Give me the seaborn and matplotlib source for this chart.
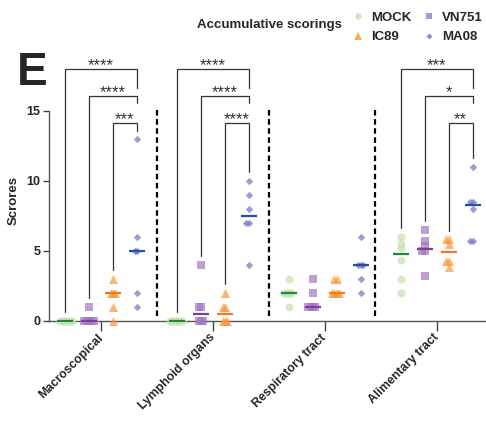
import numpy as np
import pandas as pd
import matplotlib
matplotlib.use("Agg")
import matplotlib.pyplot as plt
from matplotlib.lines import Line2D
import seaborn as sns

# ---------------- data ----------------
categories = ["Macroscopical", "Lymphoid organs", "Respiratory tract", "Alimentary tract"]
groups = ["MOCK", "VN751", "IC89", "MA08"]

mock_scores = [
    [0, 0, 0, 0, 0, 0],
    [0, 0, 0, 0, 0, 0],
    [3, 2, 2, 2, 2, 1],
    [6.0, 5.5, 5.2, 4.3, 3.0, 2.0],
]
vn751_scores = [
    [1, 0, 0, 0, 0, 0],
    [4, 1, 1, 0, 0, 0],
    [3, 2, 1, 1, 1, 1],
    [6.5, 5.7, 5.3, 5.0, 5.0, 3.2],
]
ic89_scores = [
    [3, 2, 2, 2, 1, 0],
    [2, 1, 1, 0, 0, 0],
    [3, 3, 2, 2, 2, 2],
    [5.8, 5.8, 5.5, 4.25, 4.25, 3.85],
]
ma08_scores = [
    [13, 6, 5, 5, 2, 1],
    [10, 9, 8, 7, 7, 4],
    [6, 4, 4, 4, 3, 2],
    [11, 8.5, 8.5, 8.0, 5.7, 5.7],
]
# significance vs MA08 (from MOCK, VN751, IC89)
sig_macro = ["****", "****", "***"]
sig_lymph = ["****", "****", "****"]
sig_alim = ["***", "*", "**"]

# ---------------- style ----------------
offsets = [-0.321, -0.107, 0.107, 0.321]
markers = ["o", "s", "^", "D"]
msizes = [5.8, 5.5, 6.5, 3.8]
point_colors = ["#c2e1b0", "#a277c2", "#f89737", "#7074c6"]
median_colors = ["#1e8a3c", "#7d3f98", "#f07a1e", "#2a4ea5"]

all_scores = [mock_scores, vn751_scores, ic89_scores, ma08_scores]
rows = []
for gi, g in enumerate(groups):
    for ci, c in enumerate(categories):
        for v in all_scores[gi][ci]:
            rows.append({"group": g, "category": c, "score": v,
                         "xpos": ci + offsets[gi]})
df = pd.DataFrame(rows)

sns.set_style("ticks")
plt.rcParams["font.family"] = ["Liberation Sans", "DejaVu Sans"]
plt.rcParams["font.weight"] = "bold"

W, H = 486, 421
fig = plt.figure(figsize=(W / 100, H / 100), dpi=100)
y0_px, ppu = 320.5, 13.97
ytop = 19.5
ax = fig.add_axes([49 / W, (H - y0_px) / H, (W - 49) / W, ytop * ppu / H])

swarms = []
for gi, g in enumerate(groups):
    sub = df[df["group"] == g]
    n_before = len(ax.collections)
    sns.swarmplot(data=sub, x="xpos", y="score", native_scale=True, orient="x",
                  marker=markers[gi], color=point_colors[gi], size=1.6,
                  linewidth=0, alpha=0.7, clip_on=False, zorder=3, ax=ax,
                  warn_thresh=1.0)
    for coll in ax.collections[n_before:]:
        swarms.append((coll, msizes[gi]))
    sns.pointplot(data=sub, x="xpos", y="score", native_scale=True, orient="x",
                  estimator="median", errorbar=None, markers="_",
                  linestyles="none", color=median_colors[gi], markersize=12,
                  markeredgewidth=1.6, ax=ax, zorder=5)

ax.set_xlim(-0.464, 3.44)
ax.set_ylim(0, ytop)

# brackets
levels = [18.0, 16.07, 14.14]
right_ends = [16.64, 15.55, None]
bracket_color = "#333333"
for ci, labels in [(0, sig_macro), (1, sig_lymph), (3, sig_alim)]:
    x_r = ci + offsets[3]
    ma_max = max(ma08_scores[ci])
    for k, lab in enumerate(labels):
        x_l = ci + offsets[k]
        lev = levels[k]
        left_bottom = max(all_scores[k][ci]) + 0.6
        right_bottom = right_ends[k] if right_ends[k] is not None else ma_max + 0.6
        ax.plot([x_l, x_l, x_r, x_r], [left_bottom, lev, lev, right_bottom],
                color=bracket_color, lw=0.9, clip_on=False, zorder=2)
        ax.text((x_l + x_r) / 2, lev - 0.05, lab, ha="center", va="baseline",
                fontsize=12, fontweight="normal", color="#333333")

# dashed separators
for xs in [0.5, 1.5, 2.45]:
    ax.plot([xs, xs], [0.3, 15.3], color="black", lw=1.6,
            linestyle=(0, (2.5, 1.6)), zorder=1)

ax.set_xticks(range(len(categories)))
ax.set_xticklabels(categories, rotation=45, ha="right", va="center",
                   rotation_mode="anchor", fontsize=8.8, fontweight="bold")
ax.set_yticks([0, 5, 10, 15])
ax.set_yticklabels(["0", "5", "10", "15"], fontsize=9, fontweight="bold")
ax.set_xlabel("")
ax.set_ylabel("Scrores", fontsize=9.5, fontweight="bold")
ax.yaxis.set_label_coords(-0.066, 0.442)

for s in ["top", "right"]:
    ax.spines[s].set_visible(False)
ax.spines["left"].set_bounds(0, 15)
for s in ["left", "bottom"]:
    ax.spines[s].set_color("#555555")
    ax.spines[s].set_linewidth(1.0)
ax.tick_params(axis="x", length=7, width=1, color="#444444", pad=4)
ax.tick_params(axis="y", length=4, width=1, color="#444444", pad=2)

# legend
handles = []
for gi, g in enumerate(groups):
    handles.append(Line2D([], [], marker=markers[gi], linestyle="none",
                          color=point_colors[gi], alpha=0.8,
                          markersize=msizes[gi] * 0.8, markeredgewidth=0, label=g))
order = [0, 2, 1, 3]
fig.legend([handles[i] for i in order], [groups[i] for i in order], ncol=2,
           loc="upper left", bbox_to_anchor=(345 / W, 1 - 5 / H),
           frameon=False, borderpad=0, handlelength=1.0, handletextpad=0.5,
           columnspacing=0.8, labelspacing=0.55,
           prop={"weight": "bold", "size": 9.5})
fig.text(342 / W, 1 - 25 / H, "Accumulative scorings", ha="right", va="center",
         fontsize=9.5, fontweight="bold")
fig.text(17 / W, 1 - 85 / H, "E", fontsize=33, fontweight="bold", va="baseline")

# compute swarm layout with small collision size, then restore marker sizes
fig.canvas.draw()
for coll, ms in swarms:
    if "draw" in coll.__dict__:
        del coll.draw
    coll.set_sizes([ms ** 2])

fig.savefig("out.png", dpi=100)
